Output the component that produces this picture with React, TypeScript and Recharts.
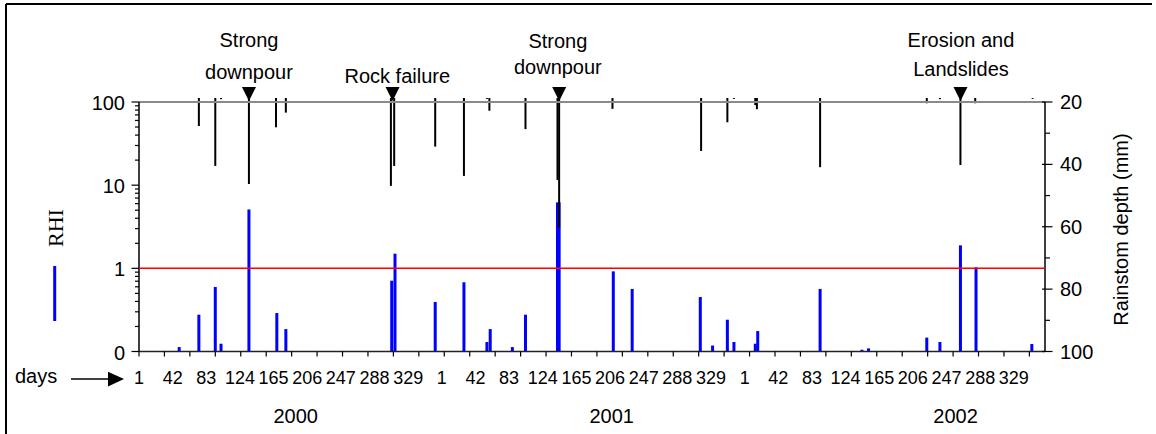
import React from 'react';
import { ComposedChart, Bar, XAxis, YAxis, ReferenceLine, ReferenceDot } from 'recharts';

// ---------- data ----------
const X_MAX = 1104; // running day index over the record
const dayLabels = ['1', '42', '83', '124', '165', '206', '247', '288', '329'];
const yearLabels = ['2000', '2001', '2002'];
const yearLabelDays = [191, 576, 995];
const labelStep = 41;
const tickStep = 31;

const rhiDays = [49, 73, 93, 100, 134, 168, 179, 308, 312, 361, 396, 424, 428, 455, 471, 510, 512, 578, 601, 684, 699, 717, 725, 751, 754, 830, 863, 881, 889, 960, 976, 1001, 1020, 1088];
const rhiValues = [0.113, 0.277, 0.597, 0.124, 5.1, 0.29, 0.186, 0.71, 1.5, 0.394, 0.68, 0.13, 0.186, 0.113, 0.277, 6.2, 6.2, 0.92, 0.565, 0.452, 0.118, 0.241, 0.13, 0.124, 0.176, 0.565, 0.101, 0.105, 0.109, 0.147, 0.13, 1.89, 1.03, 0.123];

const rainDays = [73, 93, 100, 134, 167, 179, 307, 311, 361, 396, 424, 427, 471, 510, 512, 577, 685, 717, 725, 751, 753, 830, 960, 976, 1001, 1019, 1089];
const rainValues = [27.7, 40.5, 19.1, 46.3, 28.1, 23.4, 46.9, 40.5, 34.3, 43.7, 19.0, 22.8, 28.7, 45, 60.2, 22.2, 35.7, 26.5, 19.0, 21.0, 22.3, 40.9, 20.4, 19.1, 40.2, 20.4, 19.0];

const rhiTicks = [0.1, 0.2, 0.3, 0.4, 0.5, 0.6, 0.7, 0.8, 0.9, 1, 2, 3, 4, 5, 6, 7, 8, 9, 10, 20, 30, 40, 50, 60, 70, 80, 90, 100];
const rhiMajorTicks = [0.1, 1, 10, 100];
const rhiMajorLabels = ['0', '1', '10', '100'];

const rainTicks = [20, 30, 40, 50, 60, 70, 80, 90, 100];
const rainMajorTicks = [20, 40, 60, 80, 100];

const annotationDays = [134, 309, 512, 1001];
const annotationTexts = [['Strong', 'downpour'], ['Rock failure'], ['Strong', 'downpour'], ['Erosion and', 'Landslides']];

// ---------- derived table ----------
const allDays = Array.from(new Set([...rhiDays, ...rainDays])).sort((a, b) => a - b);
const table = allDays.map((d) => {
  const i = rhiDays.indexOf(d);
  const j = rainDays.indexOf(d);
  return { day: d, rhi: i >= 0 ? rhiValues[i] : null, rain: j >= 0 ? rainValues[j] : null };
});

const tickMarkDays: number[] = [];
for (let t = 0; t <= X_MAX; t += tickStep) tickMarkDays.push(t);
const labelDays: number[] = [];
for (let k = 0; k < dayLabels.length * yearLabels.length; k++) labelDays.push(k * labelStep);
const xTicks = Array.from(new Set([...tickMarkDays, ...labelDays, ...yearLabelDays])).sort((a, b) => a - b);

// ---------- styles ----------
const FONT = '"Liberation Sans", Arial, Helvetica, sans-serif';
const SERIF = '"Liberation Serif", "Times New Roman", serif';
const TS = 7;
const TM = 7;
const RTM = 8;
const XTS = 5;
const XTM = 2;

// annotation layout (relative to marker point)
const annLayout = [
  { dx: 0, base: [-55, -23] },
  { dx: 4.7, base: [-18.5] },
  { dx: -1.3, base: [-53.5, -27.5] },
  { dx: 0.5, base: [-54.5, -26] },
];

const makeBarShape = (key: 'rhi' | 'rain', w: number, fill: string) => (props: any) => {
  const { x, y, width, height, payload } = props;
  if (!payload || payload[key] == null || !isFinite(x) || !isFinite(y) || !isFinite(height)) return <g />;
  const cx = x + width / 2;
  const top = height < 0 ? y + height : y;
  return <rect x={cx - w / 2} y={top} width={w} height={Math.abs(height)} fill={fill} />;
};

const LeftTick = (props: any) => {
  const { x, y, payload } = props;
  const ax = x + TS + TM;
  const i = rhiMajorTicks.indexOf(payload.value);
  const major = i >= 0;
  return (
    <g>
      <line x1={ax - (major ? 7.5 : 4)} x2={ax} y1={y} y2={y} stroke="#000" strokeWidth={1.2} />
      {major && (
        <text x={x} y={y} dy={8} textAnchor="end" fontFamily={FONT} fontSize={20} fill="#000">
          {rhiMajorLabels[i]}
        </text>
      )}
    </g>
  );
};

const RightTick = (props: any) => {
  const { x, y, payload } = props;
  const ax = x - TS - RTM;
  const major = rainMajorTicks.indexOf(payload.value) >= 0;
  return (
    <g>
      <line x1={major ? ax - 3 : ax} x2={ax + (major ? 7.5 : 5)} y1={y} y2={y} stroke="#000" strokeWidth={1.2} />
      {major && (
        <text x={x} y={y} dy={7} textAnchor="start" fontFamily={FONT} fontSize={20} fill="#000">
          {payload.value}
        </text>
      )}
    </g>
  );
};

const XTick = (props: any) => {
  const { x, y, payload } = props;
  const ay = y - XTS - XTM;
  const v = payload.value;
  const isMark = tickMarkDays.indexOf(v) >= 0;
  const li = labelDays.indexOf(v);
  const yi = yearLabelDays.indexOf(v);
  return (
    <g>
      {isMark && <line x1={x} x2={x} y1={ay} y2={ay + 5} stroke="#000" strokeWidth={1.2} />}
      {li >= 0 && (
        <text x={x} y={ay + 32} textAnchor="middle" fontFamily={FONT} fontSize={18} fill="#000">
          {dayLabels[li % dayLabels.length]}
        </text>
      )}
      {yi >= 0 && (
        <text x={x} y={ay + 71.5} textAnchor="middle" fontFamily={FONT} fontSize={20} fill="#000">
          {yearLabels[yi]}
        </text>
      )}
    </g>
  );
};

const AnnotationMark = ({ cx, cy, index }: { cx: number; cy: number; index: number }) => {
  const lay = annLayout[index];
  const lines = annotationTexts[index];
  return (
    <g>
      <polygon points={`${cx - 7},${cy - 15} ${cx + 7},${cy - 15} ${cx},${cy - 1}`} fill="#000" />
      {lines.map((s, k) => (
        <text key={k} x={cx + lay.dx} y={cy + lay.base[k]} textAnchor="middle" fontFamily={FONT} fontSize={20} fill="#000">
          {s}
        </text>
      ))}
    </g>
  );
};

export default function App() {
  return (
    <div style={{ position: 'absolute', left: 0, top: 0, width: 1156, height: 434, background: '#fff' }}>
      <ComposedChart
        width={1156}
        height={434}
        data={table}
        margin={{ top: 98, right: 51, bottom: 22.5, left: 79 }}
      >
        <XAxis
          xAxisId="x"
          dataKey="day"
          type="number"
          domain={[0, X_MAX]}
          allowDataOverflow
          ticks={xTicks}
          interval={0}
          height={60}
          tickSize={XTS}
          tickMargin={XTM}
          tickLine={false}
          axisLine={{ stroke: '#222', strokeWidth: 1.5 }}
          tick={(p: any) => <XTick {...p} />}
        />
        <XAxis xAxisId="xr" dataKey="day" type="number" domain={[0, X_MAX]} allowDataOverflow hide />
        <YAxis
          yAxisId="rhi"
          orientation="left"
          scale="log"
          domain={[0.1, 111.7]}
          allowDataOverflow
          ticks={rhiTicks}
          interval={0}
          width={60}
          tickSize={TS}
          tickMargin={TM}
          axisLine={false}
          tickLine={false}
          tick={(p: any) => <LeftTick {...p} />}
        />
        <YAxis
          yAxisId="rain"
          orientation="right"
          reversed
          domain={[18.718, 100]}
          allowDataOverflow
          ticks={rainTicks}
          interval={0}
          width={60}
          tickSize={TS}
          tickMargin={RTM}
          axisLine={false}
          tickLine={false}
          tick={(p: any) => <RightTick {...p} />}
        />
        <ReferenceLine xAxisId="x" yAxisId="rhi" y={100} stroke="#8a8a8a" strokeWidth={2} />
        <ReferenceLine
          xAxisId="x"
          yAxisId="rhi"
          segment={[{ x: 0, y: 0.1 }, { x: 0, y: 100 }]}
          stroke="#000"
          strokeWidth={1.5}
        />
        <ReferenceLine
          xAxisId="x"
          yAxisId="rain"
          segment={[{ x: X_MAX, y: 20 }, { x: X_MAX, y: 100 }]}
          stroke="#000"
          strokeWidth={1.5}
        />
        <Bar
          xAxisId="x"
          yAxisId="rhi"
          dataKey="rhi"
          fill="#0000ff"
          barSize={3}
          isAnimationActive={false}
          shape={makeBarShape('rhi', 3, '#0000ff')}
        />
        <Bar
          xAxisId="xr"
          yAxisId="rain"
          dataKey="rain"
          fill="#000"
          barSize={2}
          isAnimationActive={false}
          shape={makeBarShape('rain', 2, '#000')}
        />
        <ReferenceLine xAxisId="x" yAxisId="rhi" y={1} stroke="#ff0000" strokeWidth={1.5} />
        {annotationDays.map((d, i) => (
          <ReferenceDot
            key={i}
            xAxisId="x"
            yAxisId="rhi"
            x={d}
            y={100}
            r={0}
            ifOverflow="visible"
            shape={(p: any) => <AnnotationMark cx={p.cx} cy={p.cy} index={i} />}
          />
        ))}
      </ComposedChart>
      <svg
        width={1156}
        height={434}
        style={{ position: 'absolute', left: 0, top: 0, pointerEvents: 'none' }}
      >
        <line x1={6} y1={4} x2={1152} y2={4} stroke="#000" strokeWidth={2} />
        <line x1={6} y1={4} x2={6} y2={434} stroke="#000" strokeWidth={2} />
        <text
          transform="translate(63,228) rotate(-90)"
          textAnchor="middle"
          fontFamily={SERIF}
          fontSize={22}
          fill="#000"
        >
          RHI
        </text>
        <rect x={53.2} y={266} width={3} height={55} fill="#0000ff" />
        <text x={15} y={383} fontFamily={FONT} fontSize={20} fill="#000">
          days
        </text>
        <line x1={71} y1={379} x2={110} y2={379} stroke="#000" strokeWidth={1.5} />
        <polygon points="108,371.7 124,379 108,386.5" fill="#000" />
        <text
          transform="translate(1128,229.5) rotate(-90)"
          textAnchor="middle"
          fontFamily={FONT}
          fontSize={20}
          fill="#000"
        >
          Rainstom depth (mm)
        </text>
      </svg>
    </div>
  );
}
